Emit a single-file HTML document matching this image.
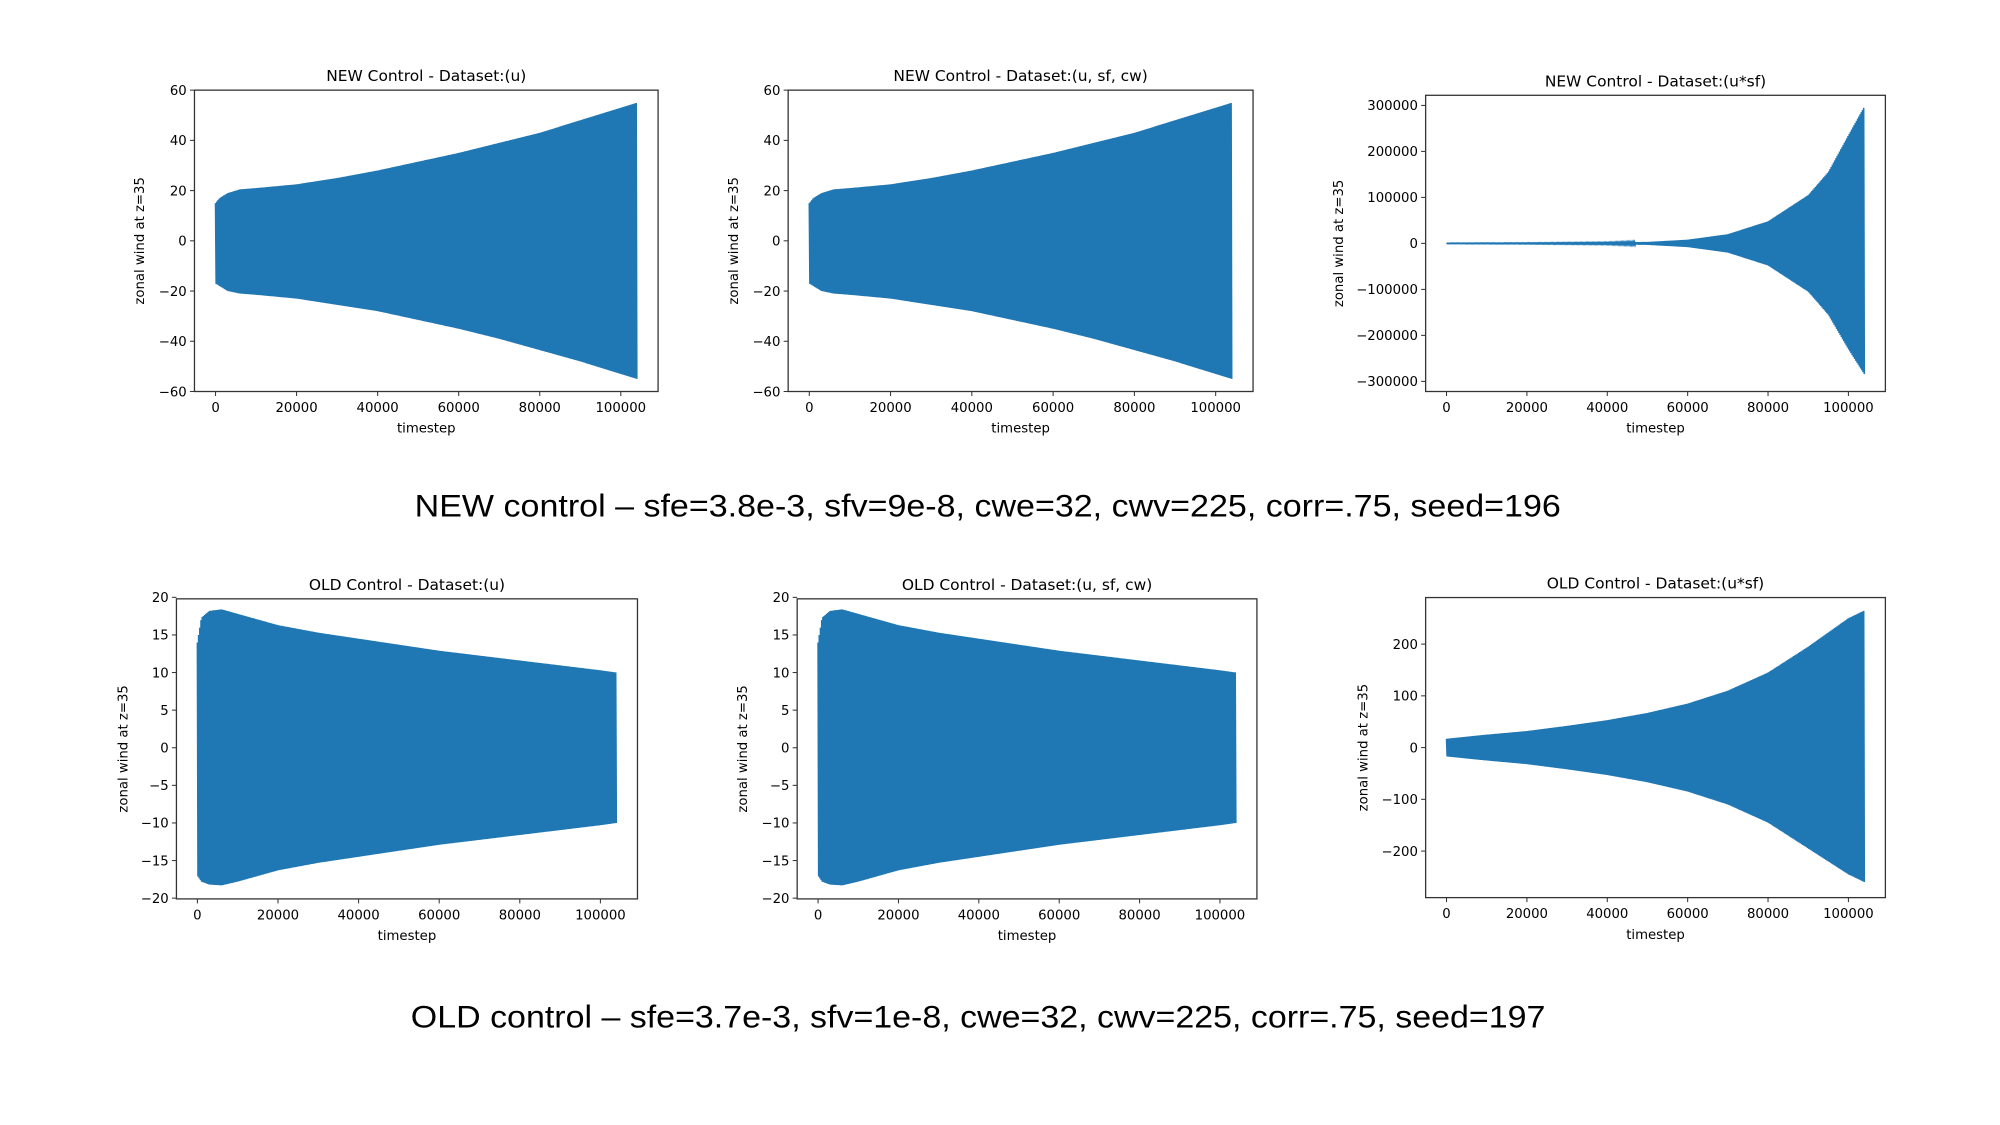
<!DOCTYPE html>
<html><head><meta charset="utf-8"><style>
html,body{margin:0;padding:0;background:#fff;}
svg{display:block;}
text{font-family:"DejaVu Sans","Liberation Sans",sans-serif;fill:#000;}
.cap{font-family:"Liberation Sans",sans-serif;}
</style></head><body>
<svg id="root" width="2000" height="1125" viewBox="0 0 1553 873.56" xmlns="http://www.w3.org/2000/svg">
<text class="cap" x="322" y="401" font-size="24.5" textLength="890" lengthAdjust="spacingAndGlyphs">NEW control – sfe=3.8e-3, sfv=9e-8, cwe=32, cwv=225, corr=.75, seed=196</text>
<text class="cap" x="319" y="798" font-size="24.5" textLength="881" lengthAdjust="spacingAndGlyphs">OLD control – sfe=3.7e-3, sfv=1e-8, cwe=32, cwv=225, corr=.75, seed=197</text>
</svg>
<script>
// x ticks shared
const xTicks = [0, 20000, 40000, 60000, 80000, 100000];
const xDomain = [-5200, 109200];
// envelope data (timestep, upper, lower) per panel
const t1 = [0, 1000, 3000, 6000, 10000, 20000, 30000, 40000, 50000, 60000, 70000, 80000, 90000, 100000, 104000];
const up1 = [15, 17, 19, 20.5, 21, 22.5, 25, 28, 31.5, 35, 39, 43, 48, 53, 55];
const lo1 = [-17, -18, -20, -21, -21.5, -23, -25.5, -28, -31.5, -35, -39, -43.5, -48, -53, -55];
const up2 = [15, 17, 19, 20.5, 21, 22.5, 25, 28, 31.5, 35, 39, 43, 48, 53, 55];
const lo2 = [-17, -18, -20, -21, -21.5, -23, -25.5, -28, -31.5, -35, -39, -43.5, -48, -53, -55];
const t3 = [0, 20000, 40000, 50000, 60000, 70000, 80000, 90000, 95000, 100000, 104000];
const up3 = [500, 800, 1500, 3000, 8000, 20000, 48000, 105000, 155000, 235000, 298000];
const lo3 = [-500, -800, -1500, -3000, -8000, -20000, -48000, -105000, -155000, -230000, -285000];
const t4 = [0, 1000, 3000, 6000, 10000, 20000, 30000, 40000, 60000, 80000, 100000, 104000];
const up4 = [14, 17.3, 18.2, 18.4, 17.8, 16.3, 15.3, 14.5, 12.9, 11.6, 10.3, 10];
const lo4 = [-17, -17.8, -18.2, -18.3, -17.8, -16.3, -15.3, -14.5, -12.9, -11.6, -10.3, -10];
const up5 = [14, 17.3, 18.2, 18.4, 17.8, 16.3, 15.3, 14.5, 12.9, 11.6, 10.3, 10];
const lo5 = [-17, -17.8, -18.2, -18.3, -17.8, -16.3, -15.3, -14.5, -12.9, -11.6, -10.3, -10];
const t6 = [0, 10000, 20000, 30000, 40000, 50000, 60000, 70000, 80000, 90000, 100000, 104000];
const up6 = [17, 25, 32, 42, 53, 67, 85, 110, 145, 195, 250, 265];
const lo6 = [-17, -25, -32, -42, -53, -67, -85, -110, -145, -195, -245, -260];
const yTicks1 = [60, 40, 20, 0, -20, -40, -60];
const yTicks3 = [300000, 200000, 100000, 0, -100000, -200000, -300000];
const yTicks4 = [20, 15, 10, 5, 0, -5, -10, -15, -20];
const yTicks6 = [200, 100, 0, -100, -200];

const NS = "http://www.w3.org/2000/svg";
const root = document.getElementById('root');
function mk(tag, attrs, parent){const e=document.createElementNS(NS,tag);for(const k in attrs)e.setAttribute(k,attrs[k]);(parent||root).appendChild(e);return e;}
function fmt(v){return v<0?'\u2212'+(-v):''+v;}
function interp(ts, vs, t){
  if(t<=ts[0])return vs[0];
  for(let i=1;i<ts.length;i++){if(t<=ts[i]){const f=(t-ts[i-1])/(ts[i]-ts[i-1]);return vs[i-1]+f*(vs[i]-vs[i-1]);}}
  return vs[vs.length-1];
}
function panel(p){
  const g = mk('g', {});
  
  
  const X = v => p.x0 + (v - xDomain[0]) / (xDomain[1] - xDomain[0]) * (p.x1 - p.x0);
  const Y = v => p.y1 - (v - p.ymin) / (p.ymax - p.ymin) * (p.y1 - p.y0);
  let pts = [];
  const tEnd = p.t[p.t.length-1];
  const period = 300;
  for(let t=0, k=0; t<=tEnd; t+=period/2, k++){
    const v = (k%2===0) ? interp(p.t,p.up,t) : interp(p.t,p.lo,t);
    pts.push(X(t).toFixed(2)+','+Y(v).toFixed(2));
  }
  const line = mk('polyline', {points: pts.join(' '), fill:'none', stroke:'#1f77b4', 'stroke-width':'1.2'}, g);
  
  
  const fr = mk('rect', {x:p.x0, y:p.y0, width:p.x1-p.x0, height:p.y1-p.y0, fill:'none', stroke:'#333', 'stroke-width':'1'}, g);
  
  
  xTicks.forEach(v=>{
    const x = X(v);
    mk('line',{x1:x,x2:x,y1:p.y1,y2:p.y1+3.5,stroke:'#333','stroke-width':'0.8'},g);
    const tx = mk('text',{x:x,y:p.y1+16,'font-size':'10.3','text-anchor':'middle'},g);
    tx.textContent = fmt(v);
    
    
  });
  p.yt.forEach(v=>{
    const y = Y(v);
    mk('line',{x1:p.x0-3.5,x2:p.x0,y1:y,y2:y,stroke:'#333','stroke-width':'0.8'},g);
    const tx = mk('text',{x:p.x0-6,y:y+3.7,'font-size':'10.3','text-anchor':'end'},g);
    tx.textContent = fmt(v);
    
    
  });
  const ti = mk('text',{x:(p.x0+p.x1)/2,y:p.y0-7,'font-size':'12','text-anchor':'middle'},g);
  ti.textContent = p.title;
  
  
  const xl = mk('text',{x:(p.x0+p.x1)/2,y:p.y1+32,'font-size':'10.3','text-anchor':'middle'},g);
  xl.textContent = 'timestep';
  
  
  const cy=(p.y0+p.y1)/2;
  const yl = mk('text',{x:p.yl,y:cy,'font-size':'10.3','text-anchor':'middle',transform:'rotate(-90 '+p.yl+' '+cy+')'},g);
  yl.textContent = 'zonal wind at z=35';
  
  
}
panel({name:'new-u-chart',title:'NEW Control - Dataset:(u)',x0:151,x1:511,y0:70,y1:304,ymin:-60,ymax:60,yt:yTicks1,t:t1,up:up1,lo:lo1,yl:112});
panel({name:'new-u-sf-cw-chart',title:'NEW Control - Dataset:(u, sf, cw)',x0:612,x1:973,y0:70,y1:304,ymin:-60,ymax:60,yt:yTicks1,t:t1,up:up2,lo:lo2,yl:573});
panel({name:'new-usf-chart',title:'NEW Control - Dataset:(u*sf)',x0:1107,x1:1464,y0:74,y1:304,ymin:-322000,ymax:322000,yt:yTicks3,t:t3,up:up3,lo:lo3,yl:1043});
panel({name:'old-u-chart',title:'OLD Control - Dataset:(u)',x0:137,x1:495,y0:465,y1:698,ymin:-20.1,ymax:19.8,yt:yTicks4,t:t4,up:up4,lo:lo4,yl:99});
panel({name:'old-u-sf-cw-chart',title:'OLD Control - Dataset:(u, sf, cw)',x0:619,x1:976,y0:465,y1:698,ymin:-20.1,ymax:19.8,yt:yTicks4,t:t4,up:up5,lo:lo5,yl:580});
panel({name:'old-usf-chart',title:'OLD Control - Dataset:(u*sf)',x0:1107,x1:1464,y0:464,y1:697,ymin:-290,ymax:290,yt:yTicks6,t:t6,up:up6,lo:lo6,yl:1062});
</script>
</body></html>
